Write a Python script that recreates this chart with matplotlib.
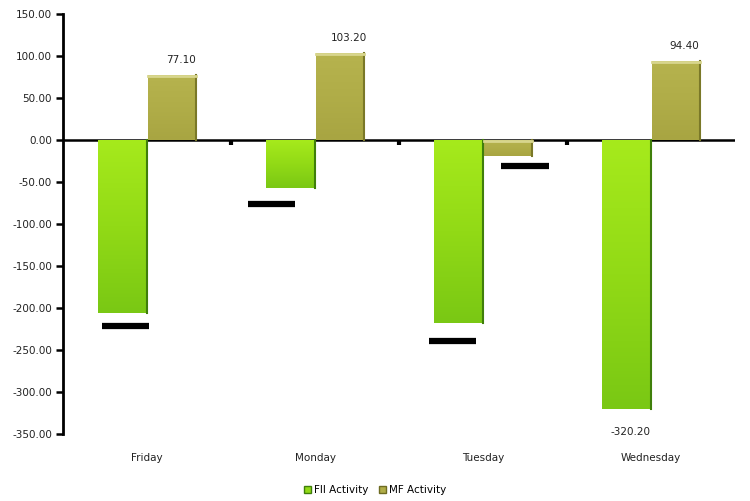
import matplotlib
matplotlib.use('Agg')
import matplotlib.pyplot as plt
import numpy as np
from matplotlib.colors import LinearSegmentedColormap
from matplotlib.patches import Rectangle

# daily institutional activity
days = ['Friday', 'Monday', 'Tuesday', 'Wednesday']
fii_activity = [-206.0, -57.0, -218.0, -320.20]
mf_activity = [77.10, 103.20, -19.0, 94.40]
shown_labels = {('FII', 3): '-320.20', ('MF', 0): '77.10', ('MF', 1): '103.20', ('MF', 3): '94.40'}

plt.rcParams['font.family'] = 'DejaVu Sans'
fig = plt.figure(figsize=(7.5, 5.01), dpi=100)
ax = fig.add_axes([0.084, 0.1337, 0.896, 0.8383])

x = np.arange(len(days))
w = 0.29
green_cmap = LinearSegmentedColormap.from_list('g', ['#7ac814', '#92da16', '#a6ea1c'])
olive_cmap = LinearSegmentedColormap.from_list('o', ['#a8a542', '#b0ad48', '#b6b34e'])

fii_bars = ax.bar(x - 0.145, fii_activity, w, color='none', edgecolor='none', zorder=2)
mf_bars = ax.bar(x + 0.148, mf_activity, w, color='none', edgecolor='none', zorder=2)

grad = np.linspace(0, 1, 100).reshape(-1, 1)
for bars, cmap, edge in [(fii_bars, green_cmap, '#3f7f0a'), (mf_bars, olive_cmap, '#7a7828')]:
    for b in bars:
        x0, y0 = b.get_x(), b.get_y()
        bw, bh = b.get_width(), b.get_height()
        y_lo, y_hi = min(y0, y0 + bh), max(y0, y0 + bh)
        im = ax.imshow(grad, cmap=cmap, aspect='auto', origin='lower',
                       extent=[x0, x0 + bw, y_lo, y_hi], zorder=2)
        im.set_clip_path(b)
        # darker right edge
        ax.plot([x0 + bw, x0 + bw], [y_lo, y_hi], color=edge, lw=1.5, zorder=3)
        if bars is mf_bars:
            ax.plot([x0, x0 + bw], [y_hi - 1.2, y_hi - 1.2], color='#d8d68e', lw=2, zorder=3)

# value labels
for i, v in enumerate(mf_activity):
    if ('MF', i) in shown_labels:
        ax.text(x[i] + 0.2, v + 12, shown_labels[('MF', i)], ha='center', va='bottom', fontsize=7.5, color='#222222')
ax.text(x[3] - 0.12, fii_activity[3] - 22, shown_labels[('FII', 3)], ha='center', va='top', fontsize=7.5, color='#222222')

# unreadable label boxes below the negative bars
label_boxes = [(x[0] - 0.13, fii_activity[0] - 15), (x[1] - 0.26, fii_activity[1] - 19),
               (x[2] - 0.18, fii_activity[2] - 21), (x[2] + 0.25, mf_activity[2] - 12)]
for cx, cy in label_boxes:
    ax.plot([cx - 0.14, cx + 0.14], [cy, cy], color='black', lw=4.5, solid_capstyle='butt', zorder=4)

# zero line with category separators
ax.axhline(0, color='black', lw=1.8, zorder=1)
for s in x[:-1] + 0.5:
    ax.plot([s, s], [0, -6], color='black', lw=3, solid_capstyle='butt', zorder=4)

ax.set_xlim(-0.5, 3.5)
ax.set_ylim(-350, 150)
ax.set_yticks(np.arange(-350, 151, 50))
ax.set_yticklabels([f'{t:.2f}' for t in np.arange(-350, 151, 50)], fontsize=7.5, color='#222222')
ax.set_xticks(x)
ax.set_xticklabels(days, fontsize=7.5, color='#222222')
ax.tick_params(axis='x', length=0, pad=14)
ax.tick_params(axis='y', length=5, width=1.8, direction='out', pad=3)
for side in ['top', 'right', 'bottom']:
    ax.spines[side].set_visible(False)
ax.spines['left'].set_linewidth(2)

handles = [Rectangle((0, 0), 1, 1, facecolor='#92da16', edgecolor='#3f7f0a'),
           Rectangle((0, 0), 1, 1, facecolor='#b0ad48', edgecolor='#6e6c22')]
fig.legend(handles, ['FII Activity', 'MF Activity'], loc='center', bbox_to_anchor=(0.5, 0.022),
           ncol=2, frameon=False, fontsize=7.5, handlelength=0.7, handleheight=0.7,
           handletextpad=0.3, columnspacing=1.0)

fig.savefig('out.png', dpi=100)
